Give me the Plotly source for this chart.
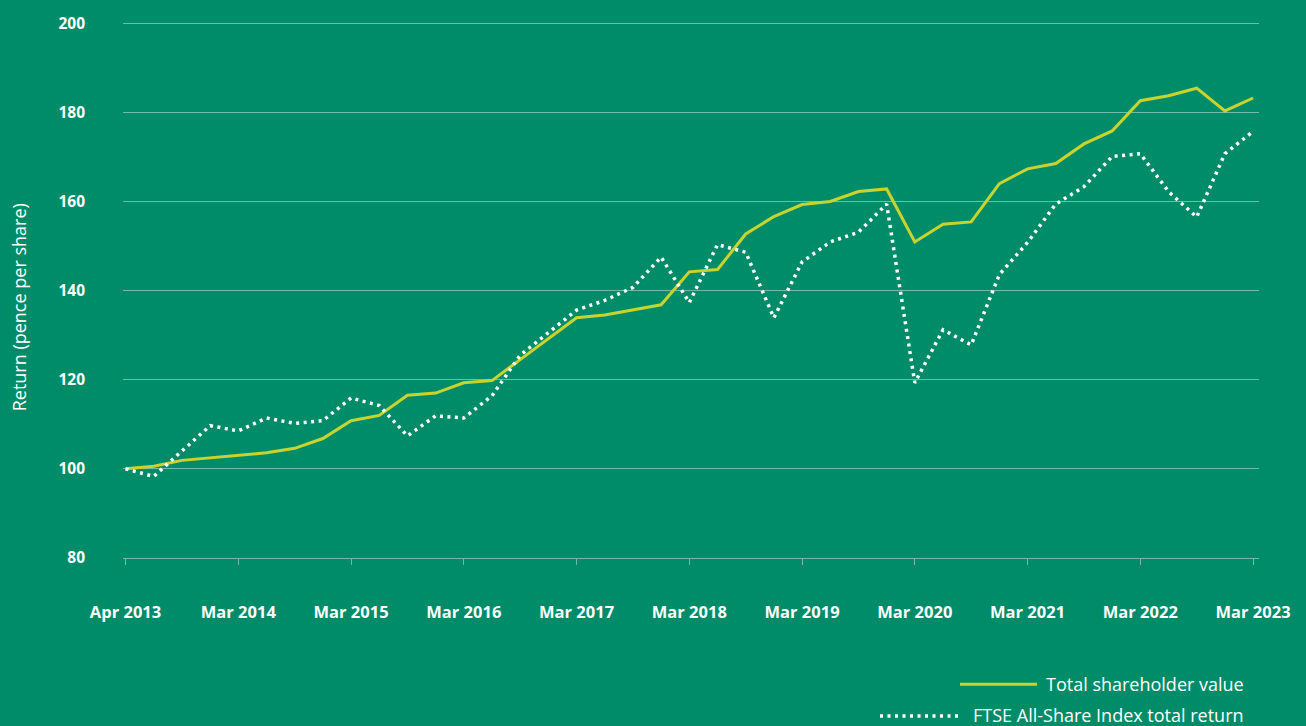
import plotly.graph_objects as go

# Quarterly points, Apr 2013 .. Mar 2023 (41 points)
quarter_index = list(range(41))
tsv = [100.0, 100.6, 101.9, 102.5, 103.0, 103.6, 104.6, 106.8, 110.8, 112.0,
       116.5, 117.0, 119.3, 119.8, 124.5, 129.2, 133.9, 134.5, 135.7, 136.8,
       144.2, 144.7, 152.7, 156.6, 159.3, 160.0, 162.2, 162.8, 150.9, 154.9,
       155.4, 164.0, 167.3, 168.5, 172.9, 175.8, 182.6, 183.7, 185.4, 180.3,
       183.2]
ftse = [100.0, 98.3, 104.0, 109.7, 108.5, 111.4, 110.2, 110.8, 115.9, 114.2,
        107.4, 111.9, 111.4, 116.4, 125.5, 130.6, 135.6, 137.8, 140.7, 147.5,
        137.3, 150.3, 148.6, 133.9, 146.4, 150.9, 153.1, 159.4, 119.3, 131.2,
        127.8, 143.6, 150.8, 159.4, 163.3, 170.1, 170.7, 162.2, 156.5, 170.7,
        175.7]
tick_positions = [0, 4, 8, 12, 16, 20, 24, 28, 32, 36, 40]
tick_labels = ["Apr 2013", "Mar 2014", "Mar 2015", "Mar 2016", "Mar 2017",
               "Mar 2018", "Mar 2019", "Mar 2020", "Mar 2021", "Mar 2022", "Mar 2023"]
y_ticks = [80, 100, 120, 140, 160, 180, 200]
series_names = ["Total shareholder value", "FTSE All-Share Index total return"]

BG = "#008C69"
YELLOW = "#C8D42E"
GRID = "rgba(255,255,255,0.42)"
FONT = "Open Sans"

fig = go.Figure()
fig.add_trace(go.Scatter(x=quarter_index, y=tsv, mode="lines", name=series_names[0],
                         line=dict(color=YELLOW, width=3), showlegend=False, hoverinfo="skip"))
fig.add_trace(go.Scatter(x=quarter_index, y=ftse, mode="lines", name=series_names[1],
                         line=dict(color="white", width=3.5, dash="3px,4.5px"), showlegend=False,
                         hoverinfo="skip"))

W, H = 1306, 726
L, R, T, B = 123, 47, 17, 168
pw = W - L - R
ph = H - T - B

def px_x(px):
    return (px - L) / pw

def px_y(py):
    return (H - B - py) / ph

fig.update_layout(
    width=W, height=H,
    paper_bgcolor=BG, plot_bgcolor=BG,
    margin=dict(l=L, r=R, t=T, b=B, pad=0),
    font=dict(family=FONT, color="white"),
    hovermode=False,
    xaxis=dict(range=[-0.09, 40.21], tickvals=tick_positions, ticktext=tick_labels,
               showgrid=False, zeroline=False, showline=True, linecolor=GRID, linewidth=1,
               ticks="outside", ticklen=6, tickcolor=GRID, tickwidth=1,
               ticklabelstandoff=33,
               tickfont=dict(family=FONT, size=16.5, color="white", weight="bold")),
    yaxis=dict(range=[80, 200.25], tickvals=y_ticks, showgrid=True, gridcolor=GRID, gridwidth=1,
               zeroline=False, showline=False, ticks="", ticklabelstandoff=37,
               tickfont=dict(family=FONT, size=15.5, color="white", weight="bold")),
)

# y-axis title
fig.add_annotation(text="Return (pence per share)", xref="paper", yref="paper",
                   x=px_x(19), y=px_y(305), textangle=-90, showarrow=False,
                   font=dict(family=FONT, size=18, color="white"),
                   xanchor="center", yanchor="middle")

# legend (manual)
fig.add_shape(type="line", xref="paper", yref="paper",
              x0=px_x(960), x1=px_x(1037), y0=px_y(685.5), y1=px_y(685.5),
              line=dict(color=YELLOW, width=3))
fig.add_shape(type="line", xref="paper", yref="paper",
              x0=px_x(880), x1=px_x(958), y0=px_y(717.5), y1=px_y(717.5),
              line=dict(color="white", width=3.5, dash="3px,4.5px"))
fig.add_annotation(text=series_names[0], xref="paper", yref="paper",
                   x=px_x(1246), y=px_y(685.5), showarrow=False, xanchor="right", yanchor="middle",
                   font=dict(family=FONT, size=18, color="white"))
fig.add_annotation(text=series_names[1], xref="paper", yref="paper",
                   x=px_x(1246), y=px_y(716.5), showarrow=False, xanchor="right", yanchor="middle",
                   font=dict(family=FONT, size=18, color="white"))

fig.write_html("out.html", config={"displayModeBar": False},
               post_script="document.body.style.margin='0';document.body.style.overflow='hidden';")
